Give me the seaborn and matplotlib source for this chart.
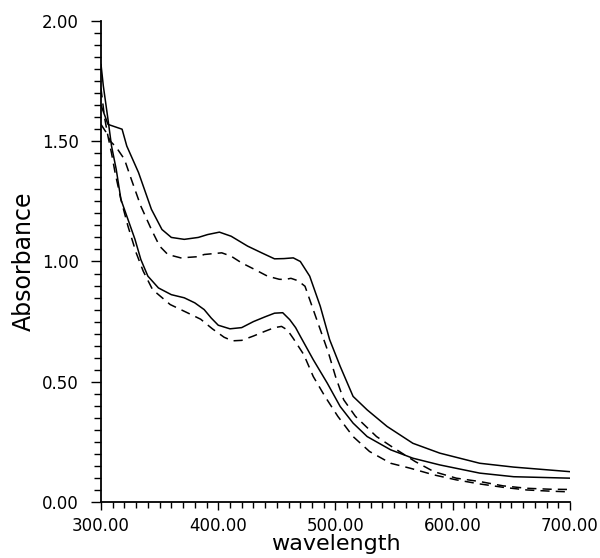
import numpy as np
import pandas as pd
import matplotlib
matplotlib.use("Agg")
import matplotlib.pyplot as plt
import seaborn as sns
from matplotlib.ticker import MultipleLocator, FormatStrFormatter


# Absorbance spectra (two solid, two dashed traces)

wl_solid_upper = [300, 306, 312, 318, 322, 332, 343, 352, 360, 371, 383, 391, 401, 411, 425, 437,
                  448, 456, 464, 470, 478, 487, 495, 504, 515, 527, 544, 566, 589, 623, 652, 700]
abs_solid_upper = [1.65, 1.57, 1.56, 1.55, 1.48, 1.37, 1.217, 1.133, 1.10, 1.092, 1.10, 1.112, 1.122, 1.105, 1.064, 1.036,
                   1.011, 1.012, 1.015, 1.0, 0.939, 0.814, 0.675, 0.564, 0.439, 0.383, 0.314, 0.244, 0.203, 0.161, 0.145, 0.126]

wl_dash_upper = [300, 304, 308, 313, 320, 326, 334, 343, 350, 357, 368, 383, 388, 403, 411, 420, 431, 442, 452,
                 457, 462, 468, 474, 481, 487, 494, 500, 507, 517, 535, 548, 568, 584, 603, 623, 643, 663, 683, 700]
abs_dash_upper = [1.57, 1.54, 1.50, 1.475, 1.425, 1.34, 1.23, 1.133, 1.064, 1.029, 1.015, 1.02, 1.029, 1.036, 1.022, 0.994, 0.967, 0.939, 0.926,
                  0.925, 0.93, 0.92, 0.897, 0.80, 0.717, 0.62, 0.522, 0.425, 0.356, 0.272, 0.23, 0.168, 0.126, 0.099, 0.085, 0.067, 0.057, 0.053, 0.052]

wl_solid_lower = [300, 302, 306, 309, 313, 317, 323, 329, 334, 340, 349, 360, 371, 380, 388, 394, 400, 410, 420,
                  430, 440, 448, 455, 461, 466, 470, 481, 493, 504, 515, 527, 547, 566, 589, 623, 652, 700]
abs_solid_lower = [1.82, 1.73, 1.59, 1.48, 1.383, 1.258, 1.175, 1.092, 1.008, 0.939, 0.89, 0.862, 0.849, 0.828, 0.80, 0.765, 0.735, 0.72, 0.725,
                   0.75, 0.77, 0.785, 0.787, 0.758, 0.725, 0.689, 0.592, 0.494, 0.397, 0.328, 0.272, 0.217, 0.182, 0.154, 0.12, 0.105, 0.099]

wl_dash_lower = [300, 303, 306, 309, 312, 317, 323, 330, 336, 344, 359, 377, 385, 395, 405, 412, 420, 430, 440,
                 448, 454, 459, 464, 473, 481, 491, 502, 515, 529, 547, 564, 584, 603, 623, 643, 663, 683, 700]
abs_dash_lower = [1.72, 1.6, 1.52, 1.45, 1.37, 1.258, 1.147, 1.036, 0.96, 0.883, 0.821, 0.779, 0.76, 0.72, 0.685, 0.67, 0.672, 0.69, 0.71,
                  0.725, 0.73, 0.715, 0.68, 0.6125, 0.522, 0.439, 0.356, 0.272, 0.21, 0.161, 0.14, 0.1125, 0.092, 0.075, 0.061, 0.05, 0.045, 0.042]


sns.set_style("ticks", {'axes.edgecolor': 'black', 'xtick.color': 'black', 'ytick.color': 'black',
                        'text.color': 'black', 'axes.labelcolor': 'black'})
plt.rcParams['font.family'] = ['DejaVu Sans']

fig = plt.figure(figsize=(6, 5.58), dpi=100)
ax = fig.add_axes([0.1683, 0.1004, 0.7817, 0.8620])

traces = [
    (wl_solid_upper, abs_solid_upper, "-"),
    (wl_dash_upper, abs_dash_upper, "--"),
    (wl_solid_lower, abs_solid_lower, "-"),
    (wl_dash_lower, abs_dash_lower, "--"),
]
for wl, ab, ls in traces:
    line_df = pd.DataFrame({'wavelength': wl, 'Absorbance': ab})
    sns.lineplot(data=line_df, x='wavelength', y='Absorbance', ax=ax, color='black',
                 linewidth=1.1, linestyle=ls, estimator=None, sort=False)

for line in ax.lines:
    if line.get_linestyle() == '--':
        line.set_dashes((6, 4))

ax.set_xlim(300, 700)
ax.set_ylim(0, 2.0)
ax.xaxis.set_major_locator(MultipleLocator(100))
ax.xaxis.set_minor_locator(MultipleLocator(10))
ax.yaxis.set_major_locator(MultipleLocator(0.5))
ax.yaxis.set_minor_locator(MultipleLocator(0.05))
ax.xaxis.set_major_formatter(FormatStrFormatter('%.2f'))
ax.yaxis.set_major_formatter(FormatStrFormatter('%.2f'))

ax.tick_params(axis='x', which='major', direction='out', length=6, width=1, labelsize=12, pad=5, colors='black')
ax.tick_params(axis='x', which='minor', direction='out', length=4, width=1, colors='black')
ax.tick_params(axis='y', which='major', direction='out', length=7, width=1, labelsize=12, pad=9, colors='black')
ax.tick_params(axis='y', which='minor', direction='out', length=5, width=1, colors='black')

sns.despine(ax=ax)
for side in ['left', 'bottom']:
    ax.spines[side].set_linewidth(1.3)
    ax.spines[side].set_color('black')

ax.set_xlabel('wavelength', fontsize=16, color='black')
ax.set_ylabel('Absorbance', fontsize=17, color='black')
ax.xaxis.set_label_coords(0.5, -0.088)
ax.yaxis.set_label_coords(-0.164, 0.5)
ax.xaxis.label.set_va('center')
ax.yaxis.label.set_va('center')

fig.savefig('out.png', dpi=100)
